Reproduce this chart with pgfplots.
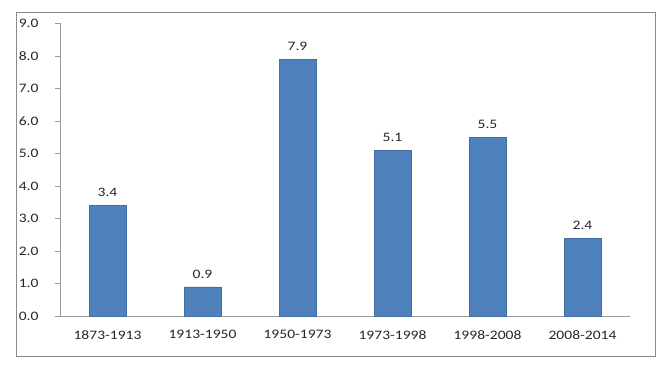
\documentclass[border=0pt]{standalone}
\usepackage{fontspec}
\setmainfont{Carlito}[FakeStretch=1.2]
\usepackage{pgfplots}
\pgfplotsset{compat=1.18}
\definecolor{barblue}{HTML}{4F81BD}
\definecolor{axgray}{HTML}{9A9A9A}
\definecolor{framegray}{HTML}{8A8A8A}
\begin{document}
\begin{tikzpicture}[x=1bp,y=1bp]
\path[use as bounding box] (-60,-53) rectangle (611,316);
\begin{axis}[
  at={(0,0)}, anchor=south west,
  scale only axis,
  width=570bp, height=292.5bp,
  xmin=-0.5, xmax=5.5,
  ymin=0, ymax=9,
  axis x line*=bottom,
  axis y line*=left,
  axis line style={axgray, line width=0.8pt},
  xtick={0,1,2,3,4,5},
  xticklabels={1873-1913,1913-1950,1950-1973,1973-1998,1998-2008,2008-2014},
  extra x ticks={-0.5,0.5,1.5,2.5,3.5,4.5,5.5},
  extra x tick labels={},
  extra x tick style={major tick length=5bp, tick style={axgray, line width=0.6pt}, tick align=outside},
  major x tick style={draw=none},
  ytick={0,1,...,9},
  tick align=outside,
  major tick length=5bp,
  tick style={axgray, line width=0.6pt},
  yticklabel style={/pgf/number format/fixed, /pgf/number format/fixed zerofill, /pgf/number format/precision=1, xshift=-13bp},
  /pgf/number format/assume math mode=true,
  ticklabel style={font=\fontsize{13}{15}\selectfont, text=black!85},
  xticklabel style={yshift=-6bp},
  ybar, bar width=37bp,
  nodes near coords,
  nodes near coords style={font=\fontsize{13}{15}\selectfont, text=black!85, yshift=5bp, /pgf/number format/fixed, /pgf/number format/fixed zerofill, /pgf/number format/precision=1, /pgf/number format/assume math mode=true},
  clip=false,
]
\addplot[fill=barblue, draw=barblue!85!black, line width=0.3pt] coordinates {(0,3.4) (1,0.9) (2,7.9) (3,5.1) (4,5.5) (5,2.4)};
\end{axis}
\draw[framegray, line width=1pt] (-44,-40) rectangle (595,304);
\end{tikzpicture}
\end{document}
